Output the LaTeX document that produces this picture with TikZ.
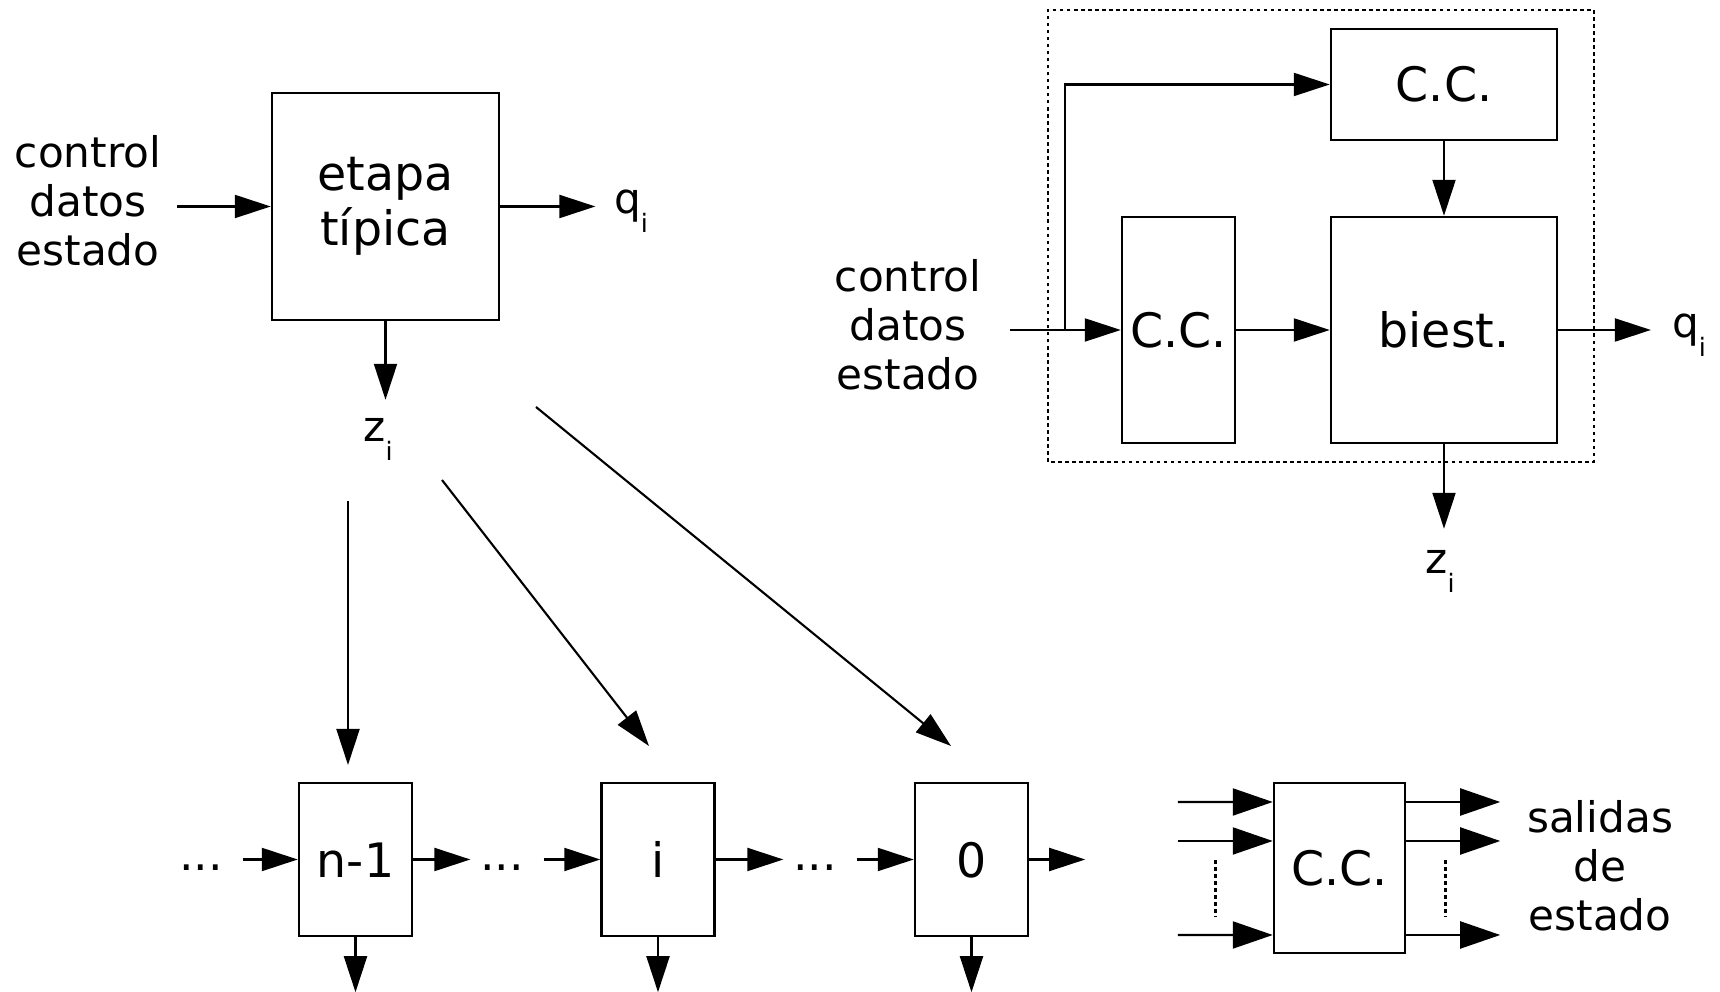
\documentclass[tikz,border=0pt]{standalone}
\usepackage{fontspec}
\setmainfont{DejaVu Sans}
\usepackage{graphicx}
\usepackage{tikz}
\usetikzlibrary{arrows.meta,positioning}
\newcommand{\subi}{\raisebox{-0.45em}{\scalebox{0.6}{i}}}
\tikzset{
  caja/.style={draw,line width=1.4pt,inner sep=0pt,align=center,font=\fontsize{27}{31}\selectfont},
  etc/.style={text height=20pt,text depth=0pt},
  flecha/.style={line width=1.2pt,-{Triangle[length=0.72cm,width=0.46cm]}},
  flechag/.style={line width=1.2pt,-{Triangle[length=0.8cm,width=0.54cm]}},
  puntos/.style={line width=1.6pt,dash pattern=on 2pt off 2pt}
}

\begin{document}
\begin{tikzpicture}[font=\fontsize{24}{28}\selectfont]
\useasboundingbox (0,0) rectangle (34.4,19.84);
% etapa tipica
\node[caja,minimum width=4.54cm,minimum height=4.54cm] (etapa) at (7.71,15.71) {etapa\\típica};
\node[align=center] (ent1) at (1.76,15.82) {control\\datos\\estado};
\node (q1) at (12.62,15.62) {q\subi}; \node (z1) at (7.56,11.05) {z\subi};
\draw[flecha,shorten <=0.2cm] (ent1.east |- etapa) -- (etapa);
\draw[flecha,shorten >=0.25cm] (etapa.east) -- (etapa.east -| q1.west);
\draw[flecha,shorten >=0.25cm] (etapa.south) -- (etapa.south |- z1.north);
% reparto de z_i
\coordinate (d1) at (6.96,9.82); \coordinate (e1) at (6.96,4.54);
\coordinate (d2) at (8.84,10.24); \coordinate (e2) at (12.98,4.92);
\coordinate (d3) at (10.72,11.7); \coordinate (e3) at (19.02,4.92);
\draw[flecha] (d1) -- (e1); \draw[flecha] (d2) -- (e2); \draw[flecha] (d3) -- (e3);
% cadena de etapas
\node[caja,etc,minimum width=2.26cm,minimum height=3.06cm] (b1) at (7.11,2.65) {n-1};
\node[caja,etc,minimum width=2.26cm,minimum height=3.06cm] (b2) at (13.16,2.65) {i};
\node[caja,etc,minimum width=2.26cm,minimum height=3.06cm] (b3) at (19.43,2.65) {0};
\foreach \p/\x in {p1/4.02,p2/10.04,p3/16.3}
  {\node[font=\fontsize{26}{30}\selectfont,inner sep=0pt,text height=13pt,text depth=0pt] (\p) at (\x,2.65) {...};}
\draw[flecha,shorten <=0.39cm] (p1) -- (b1); \draw[flecha,shorten >=0.19cm] (b1) -- (p2);
\draw[flecha,shorten <=0.39cm] (p2) -- (b2); \draw[flecha,shorten >=0.19cm] (b2) -- (p3);
\draw[flecha,shorten <=0.39cm] (p3) -- (b3); \draw[flecha] (b3.east) -- ++(1.12,0);
\foreach \b in {b1,b2,b3} {\draw[flecha] (\b.south) -- ++(0,-1.1);}
% circuito combinacional de salida
\node[caja,minimum width=2.62cm,minimum height=3.4cm] (cc3) at (26.79,2.48) {C.C.};
\node[align=center] (sal) at (32.0,2.52) {salidas\\de\\estado};
\foreach \dy in {1.32,0.54,-1.34} {
  \draw[flechag] ([shift={(-1.9,\dy)}]cc3.west) -- ([yshift=\dy cm]cc3.west);
  \draw[flechag] ([yshift=\dy cm]cc3.east) -- ++(1.88,0);
}
\draw[puntos] ([shift={(-1.14,0.16)}]cc3.west) -- ++(0,-1.14);
\draw[puntos] ([shift={(0.78,0.16)}]cc3.east) -- ++(0,-1.14);
% estructura de la etapa
\node[caja,minimum width=4.52cm,minimum height=2.22cm] (cc1) at (28.88,18.15) {C.C.};
\node[caja,minimum width=2.26cm,minimum height=4.52cm] (cc2) at (23.57,13.24) {C.C.};
\node[caja,minimum width=4.52cm,minimum height=4.52cm] (biest) at (28.88,13.24) {biest.};
\node[align=center] (ent2) at (18.16,13.34) {control\\datos\\estado};
\node (q2) at (33.78,13.14) {q\subi}; \node (z2) at (28.8,8.42) {z\subi};
\coordinate (rama) at (21.3,13.24);
\draw[line width=1.2pt,shorten <=0.45cm] (ent2.east |- cc2) -- (rama);
\draw[flecha] (rama) -- (cc2); \draw[flecha] (rama) |- (cc1);
\draw[flecha] (cc2) -- (biest); \draw[flecha] (cc1) -- (biest);
\draw[flecha,shorten >=0.3cm] (biest.east) -- (biest.east -| q2.west);
\draw[flecha,shorten >=0.3cm] (biest.south) -- (biest.south |- z2.north);
\draw[puntos] (20.96,10.6) rectangle (31.88,19.64);
\end{tikzpicture}
\end{document}
